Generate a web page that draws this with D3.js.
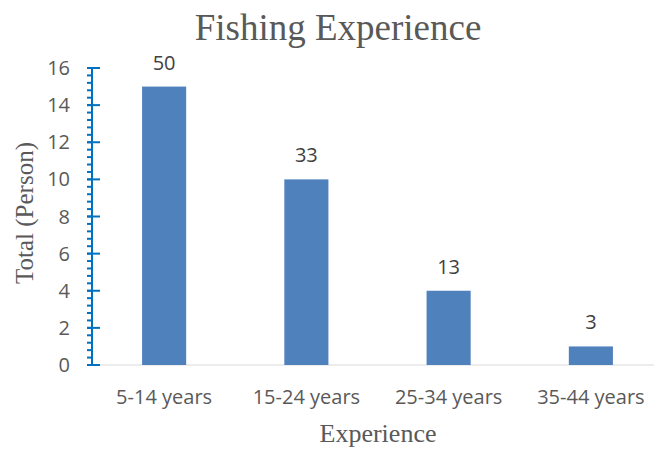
<!DOCTYPE html>
<html>
<head>
<meta charset="utf-8">
<script src="https://cdn.jsdelivr.net/npm/d3@7"></script>
<style>
    body { margin: 0; background: #fff; }
    #chart { width: 654px; height: 450px; }
</style>
</head>
<body>
<div id="chart"></div>
<script>
    var categories = ['5-14 years', '15-24 years', '25-34 years', '35-44 years'];
    var totals = [15, 10, 4, 1];
    var percentLabels = ['50', '33', '13', '3'];
    var yTicks = [0, 2, 4, 6, 8, 10, 12, 14, 16];

    var width = 654, height = 450;
    var svg = d3.select('#chart').append('svg')
        .attr('width', width)
        .attr('height', height);

    var x = d3.scaleBand()
        .domain(categories)
        .range([93, 662])
        .paddingInner(0.69)
        .paddingOuter(0.345);

    var y = d3.scaleLinear()
        .domain([0, 16])
        .range([365, 68]);

    var sans = '"Open Sans", "Noto Sans", sans-serif';
    var serif = '"Liberation Serif", "DejaVu Serif", serif';

    // baseline
    svg.append('line')
        .attr('x1', 92).attr('x2', 654)
        .attr('y1', y(0)).attr('y2', y(0))
        .style('stroke', '#d9d9d9')
        .style('stroke-width', '1px');

    // bars
    svg.selectAll('.bar')
        .data(totals)
        .enter()
        .append('rect')
        .attr('class', 'bar')
        .attr('x', function (d, i) { return x(categories[i]); })
        .attr('width', x.bandwidth())
        .attr('y', function (d) { return y(d); })
        .attr('height', function (d) { return y(0) - y(d); })
        .attr('fill', '#4f81bd');

    // data labels
    svg.selectAll('.label')
        .data(totals)
        .enter()
        .append('text')
        .attr('class', 'label')
        .attr('x', function (d, i) { return x(categories[i]) + x.bandwidth() / 2; })
        .attr('y', function (d) { return y(d) - 17; })
        .attr('text-anchor', 'middle')
        .style('font-family', sans)
        .style('font-size', '20px')
        .style('fill', '#404040')
        .text(function (d, i) { return percentLabels[i]; });

    // y axis: minor ticks then major
    var axisX = 92;
    var minor = d3.range(0, 16.001, 0.4);
    var yAxisG = svg.append('g');
    yAxisG.selectAll('.minor')
        .data(minor)
        .enter()
        .append('line')
        .attr('x1', axisX - 5).attr('x2', axisX)
        .attr('y1', function (d) { return y(d); })
        .attr('y2', function (d) { return y(d); })
        .style('stroke', '#0070c0')
        .style('stroke-width', '2px');
    yAxisG.selectAll('.major')
        .data(yTicks)
        .enter()
        .append('line')
        .attr('x1', axisX - 5).attr('x2', axisX + 8)
        .attr('y1', function (d) { return y(d); })
        .attr('y2', function (d) { return y(d); })
        .style('stroke', '#0070c0')
        .style('stroke-width', '2px');
    yAxisG.append('line')
        .attr('x1', axisX).attr('x2', axisX)
        .attr('y1', y(16)).attr('y2', y(0) + 1)
        .style('stroke', '#0070c0')
        .style('stroke-width', '2px');
    yAxisG.selectAll('.ytick')
        .data(yTicks)
        .enter()
        .append('text')
        .attr('x', 70)
        .attr('y', function (d) { return y(d); })
        .attr('dy', '0.35em')
        .attr('text-anchor', 'end')
        .style('font-family', sans)
        .style('font-size', '20px')
        .style('fill', '#595959')
        .text(function (d) { return d; });

    // x axis labels
    svg.selectAll('.xtick')
        .data(categories)
        .enter()
        .append('text')
        .attr('x', function (d) { return x(d) + x.bandwidth() / 2; })
        .attr('y', 404)
        .attr('text-anchor', 'middle')
        .style('font-family', sans)
        .style('font-size', '20px')
        .style('fill', '#595959')
        .text(function (d) { return d; });

    // titles
    svg.append('text')
        .attr('x', 338).attr('y', 40)
        .attr('text-anchor', 'middle')
        .style('font-family', serif)
        .style('font-size', '37px')
        .style('fill', '#595959')
        .text('Fishing Experience');

    svg.append('text')
        .attr('x', 378).attr('y', 442)
        .attr('text-anchor', 'middle')
        .style('font-family', serif)
        .style('font-size', '26px')
        .style('fill', '#595959')
        .text('Experience');

    svg.append('text')
        .attr('transform', 'translate(33, 213) rotate(-90)')
        .attr('text-anchor', 'middle')
        .style('font-family', serif)
        .style('font-size', '25px')
        .style('fill', '#595959')
        .text('Total (Person)');
</script>
</body>
</html>
